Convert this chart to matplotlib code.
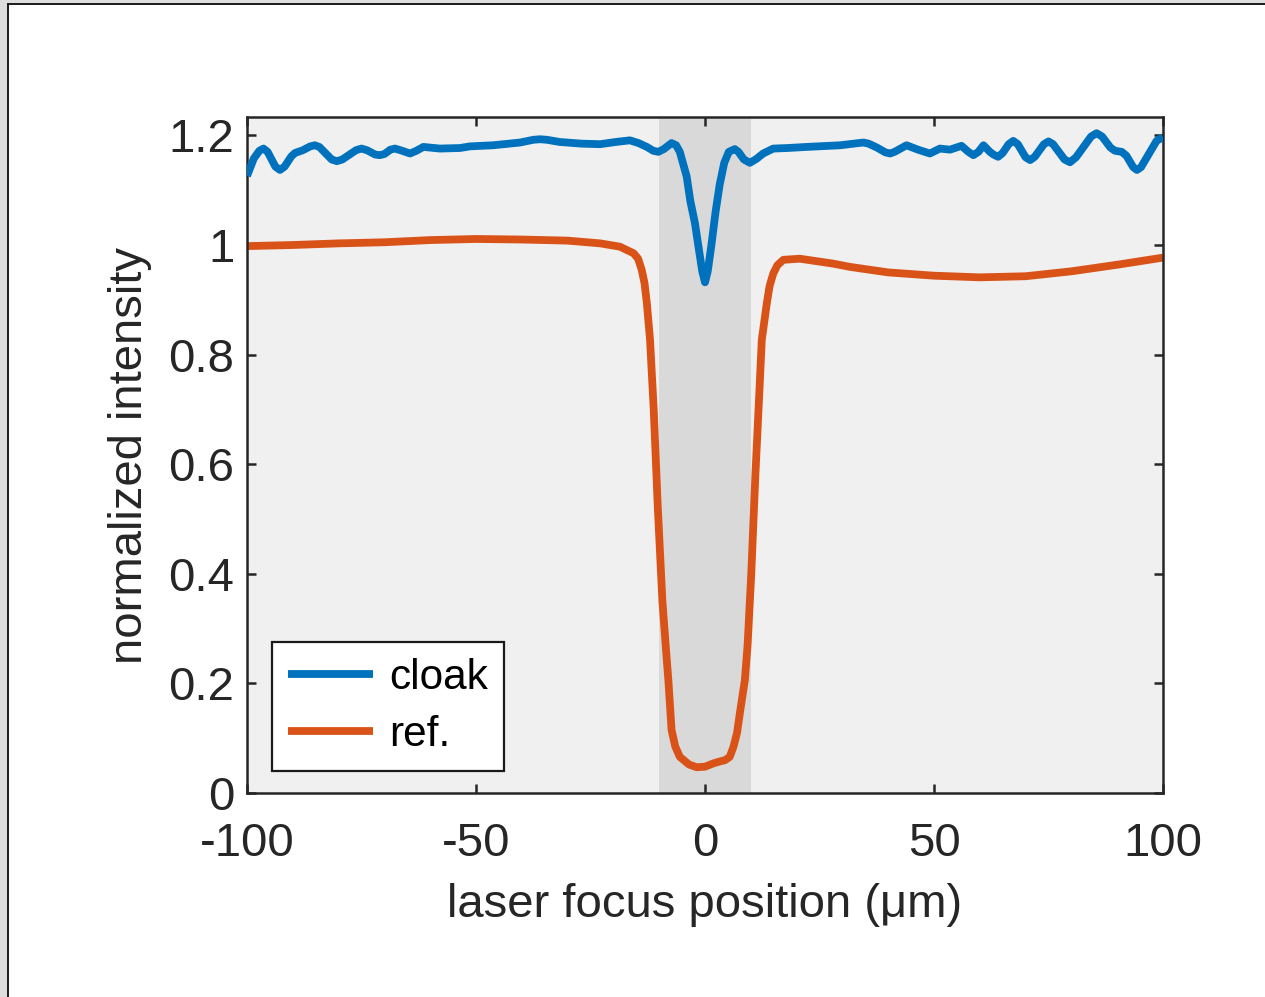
import matplotlib
matplotlib.use("Agg")
import matplotlib.pyplot as plt
from matplotlib.patches import Rectangle
from matplotlib.lines import Line2D

plt.rcParams['font.family'] = ['Liberation Sans', 'DejaVu Sans']

# cloak transmission scan
cloak_x = [-100, -98.5, -97.3, -96.4, -95.5, -93.8, -92.8, -91.8, -90.3, -89.5, -87.8,
           -86.2, -85.2, -84.2, -81.5, -80.4, -79.2, -76.2, -75, -73.8, -72, -71, -70,
           -68.7, -67.7, -66.5, -64.4, -63, -61.5, -57.9, -53.5, -51.3, -46.3, -40.4,
           -37.5, -36, -34.5, -31.7, -27, -22.9, -19.5, -16.4, -14.5, -12.7, -11.3, -10.2,
           -9.0, -7.3, -6.3, -5.5, -4, -3.2, -2.2, -1.3, -0.6, 0, 0.6, 1.4, 2.3, 3.2, 4.2,
           5.2, 6.5, 7.3, 8.5, 9.8, 11.2, 12.7, 14.9, 18, 22.2, 29.5, 33.5, 34.6, 35.7,
           37.5, 39.4, 40.4, 41.4, 44, 46.5, 49.1, 51.3, 53.5, 56, 57.5, 58.6, 59.7, 60.8,
           62.2, 63, 64, 65, 66.3, 67.3, 68.3, 70, 71, 72, 74, 75, 76, 78.5, 79.7, 81,
           84.3, 85.5, 86.7, 88.5, 89.5, 91, 92, 93.5, 94.3, 95.2, 98.6, 100]
cloak_y = [1.126, 1.158, 1.172, 1.176, 1.170, 1.143, 1.137, 1.143, 1.162, 1.168, 1.173,
           1.180, 1.182, 1.179, 1.156, 1.153, 1.156, 1.173, 1.176, 1.173, 1.165, 1.164, 1.166,
           1.174, 1.176, 1.173, 1.167, 1.172, 1.179, 1.176, 1.177, 1.180, 1.182, 1.187,
           1.192, 1.193, 1.192, 1.188, 1.185, 1.184, 1.188, 1.191, 1.186, 1.179, 1.172, 1.170,
           1.175, 1.186, 1.182, 1.170, 1.125, 1.080, 1.040, 0.990, 0.952, 0.932, 0.952, 1.000,
           1.060, 1.110, 1.150, 1.170, 1.175, 1.170, 1.156, 1.150, 1.157, 1.167, 1.176, 1.177,
           1.179, 1.182, 1.186, 1.187, 1.185, 1.178, 1.169, 1.167, 1.170, 1.182, 1.174, 1.167,
           1.176, 1.174, 1.181, 1.170, 1.164, 1.170, 1.182, 1.170, 1.165, 1.161, 1.168, 1.184,
           1.190, 1.184, 1.160, 1.155, 1.161, 1.184, 1.189, 1.184, 1.156, 1.151, 1.160,
           1.198, 1.204, 1.198, 1.178, 1.172, 1.170, 1.163, 1.142, 1.137, 1.142, 1.190, 1.197]

# reference (bare obstacle) scan
ref_x = [-100, -90, -80, -70, -60, -50, -40, -30, -22.9, -18.6, -15.6, -14.6, -13.8, -13.2,
         -12.7, -12, -11.2, -10.3, -9.3, -8.5, -8.0, -7.3, -6.5, -5.5, -3.5, -1.8, 0, 1.8,
         3, 4.4, 5.4, 6.2, 7.0, 7.6, 8.7, 9.3, 10.1, 11.0, 11.8, 12.4, 13.5, 14.1, 14.9,
         15.8, 17.1, 20.7, 28, 31.7, 40, 50, 60, 70, 80, 90, 100]
ref_y = [0.998, 1.000, 1.003, 1.005, 1.009, 1.011, 1.010, 1.008, 1.003, 0.997, 0.985, 0.975,
         0.954, 0.930, 0.894, 0.827, 0.700, 0.520, 0.350, 0.260, 0.206, 0.115, 0.085, 0.066,
         0.052, 0.047, 0.048, 0.054, 0.057, 0.060, 0.066, 0.084, 0.110, 0.145, 0.206, 0.270,
         0.400, 0.580, 0.720, 0.827, 0.894, 0.925, 0.948, 0.963, 0.973, 0.975, 0.966, 0.960,
         0.950, 0.944, 0.941, 0.943, 0.952, 0.964, 0.977]

# obstacle extent
obstacle = [-10, 10]

x_ticks = [-100, -50, 0, 50, 100]
x_ticklabels = ['-100', '-50', '0', '50', '100']
y_ticks = [0, 0.2, 0.4, 0.6, 0.8, 1.0, 1.2]
y_ticklabels = ['0', '0.2', '0.4', '0.6', '0.8', '1', '1.2']

W, H = 1265, 997
fig = plt.figure(figsize=(W / 100, H / 100), dpi=100)
fig.patch.set_facecolor('white')

# window frame around the figure
fig.patches.append(Rectangle((0, 0), 7.5 / W, 1, transform=fig.transFigure,
                             facecolor='#dedede', edgecolor='none', zorder=0))
fig.patches.append(Rectangle((0, 1 - 3.5 / H), 1, 3.5 / H, transform=fig.transFigure,
                             facecolor='#dedede', edgecolor='none', zorder=0))
fig.lines.append(Line2D([8.2 / W, 8.2 / W], [0, 1 - 4.2 / H], transform=fig.transFigure,
                        color='#1a1a1a', lw=1.4))
fig.lines.append(Line2D([8.2 / W, 1], [1 - 4.2 / H, 1 - 4.2 / H], transform=fig.transFigure,
                        color='#1a1a1a', lw=1.4))

ax = fig.add_axes([247 / W, 1 - 793 / H, (1163 - 247) / W, (793 - 117) / H])
ax.set_facecolor('#f0f0f0')
ax.axvspan(obstacle[0], obstacle[1], color='#d9d9d9', lw=0, zorder=1)

ax.plot(cloak_x, cloak_y, color='#0072BD', lw=5.6, label='cloak', zorder=3,
        solid_joinstyle='round', solid_capstyle='butt')
ax.plot(ref_x, ref_y, color='#D95319', lw=5.6, label='ref.', zorder=2,
        solid_joinstyle='round', solid_capstyle='butt')

ax.set_xlim(-100, 100)
ax.set_ylim(0, 1.2336)
ax.set_xticks(x_ticks)
ax.set_xticklabels(x_ticklabels)
ax.set_yticks(y_ticks)
ax.set_yticklabels(y_ticklabels)

ink = '#262626'
for s in ax.spines.values():
    s.set_linewidth(1.8)
    s.set_color(ink)
ax.tick_params(direction='in', length=6.5, width=1.8, color=ink, labelcolor=ink,
               labelsize=34, top=True, right=True)
ax.tick_params(axis='x', pad=21)
ax.tick_params(axis='y', pad=9)

ax.set_xlabel('laser focus position (μm)', fontsize=34, color=ink, labelpad=12)
ax.set_ylabel('normalized intensity', fontsize=34, color=ink, labelpad=12)

leg = ax.legend(loc='lower left', bbox_to_anchor=(25 / 916, 22 / 676), borderaxespad=0,
                fontsize=30.5, frameon=True, fancybox=False, framealpha=1,
                handlelength=2.0, handletextpad=0.38, borderpad=0.38, labelspacing=0.4)
leg.get_frame().set_edgecolor('#1a1a1a')
leg.get_frame().set_linewidth(1.6)
leg.get_frame().set_facecolor('white')
for t in leg.get_texts():
    t.set_color('black')

fig.savefig('out.png', dpi=100)
